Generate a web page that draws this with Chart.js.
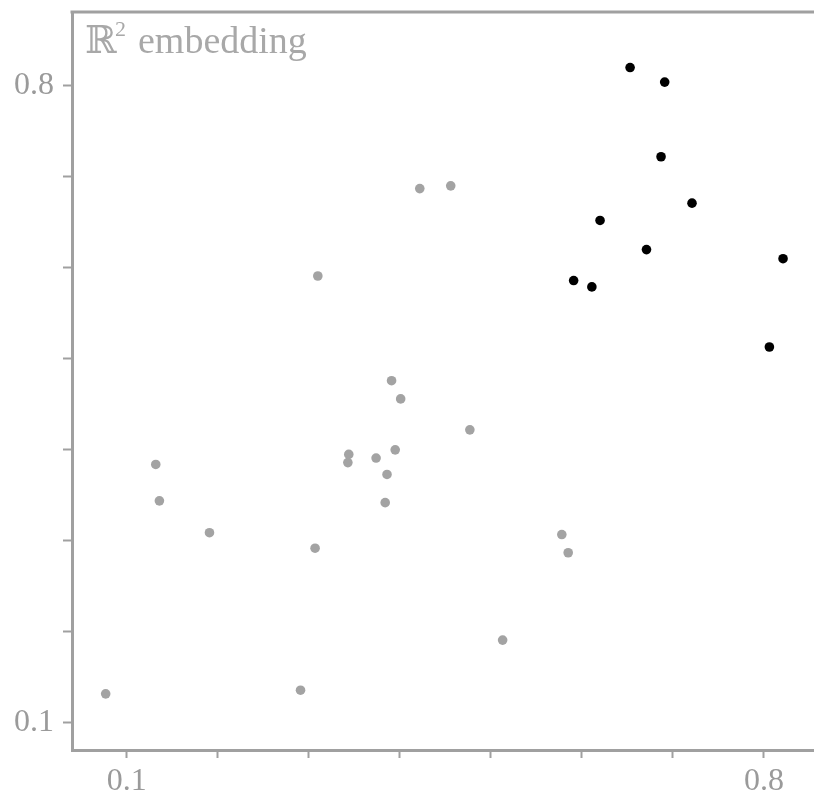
<!DOCTYPE html>
<html>
<head>
<meta charset="utf-8">
<script src="https://cdn.jsdelivr.net/npm/chart.js@4.4.1/dist/chart.umd.min.js"></script>
<style>
  html, body { margin: 0; padding: 0; background: #fff; overflow: hidden; }
  canvas { display: block; }
</style>
</head>
<body>
<canvas id="embedChart" width="814" height="793"></canvas>
<script>
// points of the 2-d embedding, split into the two groups
const grayX = [0.077, 0.132, 0.136, 0.191, 0.291, 0.307, 0.310, 0.343, 0.344, 0.374, 0.384,
               0.386, 0.391, 0.395, 0.401, 0.477, 0.422, 0.456, 0.513, 0.578, 0.585];
const grayY = [0.132, 0.384, 0.344, 0.309, 0.136, 0.292, 0.591, 0.386, 0.395, 0.391, 0.342,
               0.373, 0.476, 0.400, 0.456, 0.422, 0.687, 0.690, 0.191, 0.307, 0.287];
const blackX = [0.653, 0.691, 0.687, 0.721, 0.620, 0.671, 0.591, 0.611, 0.821, 0.806];
const blackY = [0.820, 0.804, 0.722, 0.671, 0.652, 0.620, 0.586, 0.579, 0.610, 0.513];

const tickValues = [0.1, 0.2, 0.3, 0.4, 0.5, 0.6, 0.7, 0.8];
const labelledTicks = [0.1, 0.8];
const titleSymbol = "\u211D";
const titlePower = "2";
const titleWord = "embedding";

const axisGray = "#a0a0a0";
const textGray = "#9a9a9a";
const serif = '"Liberation Serif", "DejaVu Serif", serif';

function toPoints(xs, ys) {
    return xs.map(function (x, i) { return { x: x, y: ys[i] }; });
}

function setTicks(scale) {
    scale.ticks = tickValues.map(function (v) { return { value: v }; });
}

function tickLabel(value) {
    const hit = labelledTicks.find(function (v) { return Math.abs(v - value) < 1e-9; });
    return hit !== undefined ? String(hit) : "";
}

// top frame line and the title inside the plot corner
const framePlugin = {
    id: "frame",
    afterDraw(chart) {
        const ctx = chart.ctx;
        const a = chart.chartArea;
        ctx.save();
        ctx.strokeStyle = axisGray;
        ctx.lineWidth = 3;
        ctx.beginPath();
        ctx.moveTo(a.left - 1.5, a.top);
        ctx.lineTo(chart.width, a.top);
        ctx.stroke();

        ctx.fillStyle = "#a8a8a8";
        ctx.textBaseline = "alphabetic";
        ctx.font = "38px " + serif;
        ctx.fillText(titleSymbol, a.left + 13, a.top + 41);
        ctx.font = "22px " + serif;
        ctx.fillText(titlePower, a.left + 43, a.top + 24);
        ctx.font = "38px " + serif;
        ctx.fillText(titleWord, a.left + 66, a.top + 41);
        ctx.restore();
    },
};

document.addEventListener("DOMContentLoaded", function () {
    const ctx = document.getElementById("embedChart").getContext("2d");
    const tickFont = { family: serif, size: 32 };

    new Chart(ctx, {
        type: "scatter",
        data: {
            datasets: [
                {
                    label: "gray",
                    data: toPoints(grayX, grayY),
                    backgroundColor: "#a3a3a3",
                    borderWidth: 0,
                    pointRadius: 4.8,
                },
                {
                    label: "black",
                    data: toPoints(blackX, blackY),
                    backgroundColor: "#000000",
                    borderWidth: 0,
                    pointRadius: 4.8,
                },
            ],
        },
        options: {
            responsive: false,
            animation: false,
            layout: {
                autoPadding: false,
                padding: { top: 12, right: 0, left: 0, bottom: 0 },
            },
            plugins: {
                legend: { display: false },
                tooltip: { enabled: false },
            },
            scales: {
                x: {
                    type: "linear",
                    min: 0.04,
                    max: 0.855,
                    afterBuildTicks: setTicks,
                    afterFit: function (scale) {
                        scale.height = 43;
                        scale.paddingLeft = 0;
                        scale.paddingRight = 0;
                    },
                    border: { display: true, color: axisGray, width: 3 },
                    grid: {
                        drawOnChartArea: false,
                        drawTicks: true,
                        tickLength: 8,
                        tickWidth: 2,
                        tickColor: axisGray,
                    },
                    ticks: {
                        autoSkip: false,
                        maxRotation: 0,
                        padding: 4,
                        color: textGray,
                        font: tickFont,
                        callback: tickLabel,
                    },
                },
                y: {
                    type: "linear",
                    min: 0.0703,
                    max: 0.881,
                    afterBuildTicks: setTicks,
                    afterFit: function (scale) {
                        scale.width = 72;
                        scale.paddingTop = 0;
                        scale.paddingBottom = 0;
                    },
                    border: { display: true, color: axisGray, width: 3 },
                    grid: {
                        drawOnChartArea: false,
                        drawTicks: true,
                        tickLength: 9,
                        tickWidth: 2,
                        tickColor: axisGray,
                    },
                    ticks: {
                        autoSkip: false,
                        padding: 9,
                        color: textGray,
                        font: tickFont,
                        callback: tickLabel,
                    },
                },
            },
        },
        plugins: [framePlugin],
    });
});
</script>
</body>
</html>
